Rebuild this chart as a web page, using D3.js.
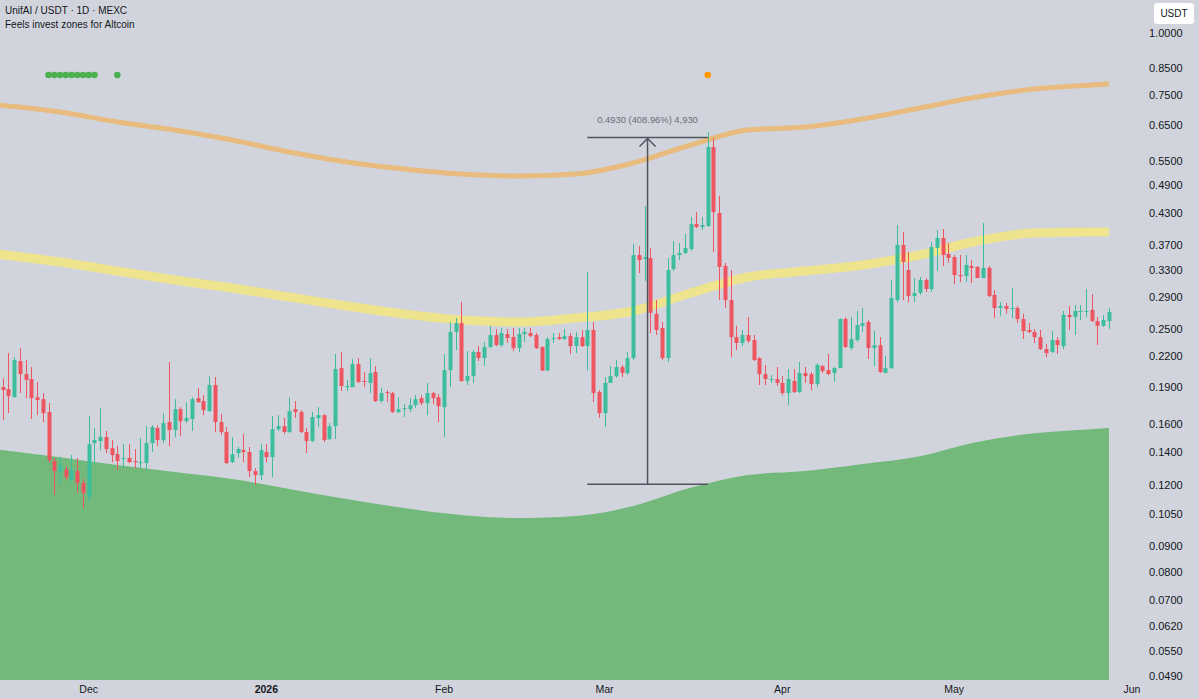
<!DOCTYPE html>
<html lang="en">
<head>
<meta charset="utf-8"/>
<title>UnifAI / USDT 1D MEXC</title>
<script src="https://d3js.org/d3.v7.min.js"></script>
<style>
  body { margin: 0; background: #d1d4dc; overflow: hidden; }
  svg text { font-family: "Liberation Sans", Arial, sans-serif; }
</style>
</head>
<body>
<div id="chart"></div>
<script>
// daily candles, the first one is 16 Nov 2025
var firstCandle = Date.UTC(2025, 10, 16);
var dayMs = 86400000;

var opens = [0.1901,0.1883,0.1813,0.2149,0.2021,0.1975,0.1813,0.1797,0.1691,0.1344,
  0.1276,0.1294,0.1229,0.1282,0.1212,0.1135,0.1462,0.1476,0.1504,0.1428,
  0.1388,0.1357,0.1363,0.1344,0.1331,0.1331,0.1462,0.1569,0.1483,0.1614,
  0.1554,0.1715,0.1621,0.1637,0.1805,0.1781,0.1699,0.1920,0.1614,0.1540,
  0.1337,0.1395,0.1415,0.1402,0.1282,0.1258,0.1402,0.1369,0.1561,0.1583,
  0.1540,0.1715,0.1691,0.1540,0.1476,0.1645,0.1667,0.1490,0.1583,0.2079,
  0.1901,0.1901,0.2119,0.1957,0.1939,0.2041,0.1781,0.1858,0.1849,0.1691,
  0.1715,0.1715,0.1747,0.1805,0.1764,0.1849,0.1813,0.1731,0.2060,0.2463,
  0.2568,0.1957,0.2002,0.2242,0.2179,0.2295,0.2428,0.2316,0.2439,0.2405,
  0.2284,0.2439,0.2451,0.2428,0.2295,0.2055,0.2383,0.2405,0.2383,0.2416,
  0.2305,0.2405,0.2305,0.2486,0.1858,0.1683,0.1939,0.2002,0.2089,0.2031,
  0.2179,0.3534,0.3470,0.3486,0.2682,0.2510,0.2179,0.3311,0.3534,0.3568,
  0.3636,0.4088,0.4031,0.4050,0.5869,0.4306,0.3358,0.2862,0.2405,0.2339,
  0.2428,0.2372,0.2179,0.2021,0.1966,0.1975,0.1939,0.1849,0.1957,0.1858,
  0.2031,0.2021,0.1930,0.2099,0.2060,0.2031,0.2079,0.2617,0.2284,0.2372,
  0.2535,0.2581,0.2284,0.2316,0.2031,0.2079,0.2862,0.3705,0.3295,0.2916,
  0.2958,0.3143,0.3013,0.3653,0.3829,0.3551,0.3502,0.3218,0.3203,0.3358,
  0.3342,0.3173,0.3327,0.2930,0.2757,0.2783,0.2744,0.2757,0.2617,0.2486,
  0.2463,0.2405,0.2273,0.2242,0.2372,0.2305,0.2668,0.2642,0.2706,0.2706,
  0.2731,0.2593,0.2535,0.2593];
var highs = [0.1983,0.2231,0.2189,0.2284,0.2159,0.2089,0.1948,0.1849,0.1764,0.1363,
  0.1369,0.1313,0.1382,0.1363,0.1235,0.1660,0.1569,0.1723,0.1547,0.1483,
  0.1442,0.1455,0.1455,0.1422,0.1497,0.1583,0.1591,0.1591,0.1683,0.2139,
  0.1797,0.1731,0.1772,0.1813,0.1893,0.1831,0.2002,0.1994,0.1675,0.1576,
  0.1504,0.1435,0.1525,0.1435,0.1300,0.1455,0.1455,0.1660,0.1667,0.1645,
  0.1813,0.1781,0.1707,0.1569,0.1691,0.1731,0.1675,0.1606,0.2221,0.2242,
  0.1966,0.2169,0.2179,0.2041,0.2179,0.2099,0.1893,0.1875,0.1858,0.1813,
  0.1755,0.1805,0.1831,0.1831,0.1939,0.1858,0.1840,0.2221,0.2581,0.2630,
  0.2835,0.2252,0.2263,0.2305,0.2350,0.2535,0.2498,0.2510,0.2498,0.2510,
  0.2510,0.2510,0.2510,0.2451,0.2305,0.2405,0.2451,0.2451,0.2498,0.2451,
  0.2463,0.2486,0.3264,0.2581,0.1875,0.1994,0.2099,0.2159,0.2109,0.2242,
  0.3722,0.3687,0.4450,0.3653,0.2862,0.2581,0.3486,0.3775,0.3740,0.3904,
  0.4225,0.4326,0.4225,0.6292,0.6122,0.4669,0.3406,0.3295,0.2535,0.2486,
  0.2642,0.2428,0.2189,0.2109,0.2012,0.2089,0.2002,0.2070,0.2070,0.2139,
  0.2089,0.2041,0.2129,0.2109,0.2221,0.2089,0.2630,0.2642,0.2642,0.2718,
  0.2757,0.2605,0.2474,0.2405,0.2200,0.3143,0.4069,0.3938,0.3585,0.3173,
  0.3188,0.3173,0.3757,0.3975,0.3994,0.3740,0.3534,0.3534,0.3534,0.3453,
  0.3358,0.4107,0.3358,0.2999,0.2835,0.2822,0.3027,0.2783,0.2682,0.2568,
  0.2498,0.2486,0.2328,0.2474,0.2405,0.2718,0.2783,0.2796,0.2796,0.3013,
  0.2944,0.2642,0.2668,0.2757];
var lows = [0.1629,0.1683,0.1811,0.1849,0.1805,0.1637,0.1667,0.1614,0.1331,0.1146,
  0.1200,0.1229,0.1217,0.1157,0.1078,0.1103,0.1319,0.1415,0.1395,0.1337,
  0.1288,0.1300,0.1331,0.1300,0.1300,0.1288,0.1402,0.1442,0.1462,0.1442,
  0.1504,0.1511,0.1606,0.1547,0.1764,0.1667,0.1691,0.1540,0.1518,0.1325,
  0.1331,0.1363,0.1337,0.1246,0.1200,0.1229,0.1337,0.1246,0.1547,0.1525,
  0.1532,0.1645,0.1532,0.1395,0.1469,0.1576,0.1469,0.1483,0.1490,0.1866,
  0.1866,0.1901,0.1939,0.1901,0.1849,0.1772,0.1764,0.1772,0.1683,0.1683,
  0.1652,0.1691,0.1723,0.1747,0.1667,0.1755,0.1614,0.1504,0.1901,0.2263,
  0.1948,0.1920,0.1939,0.2149,0.2099,0.2284,0.2305,0.2295,0.2339,0.2252,
  0.2242,0.2350,0.2405,0.2273,0.2050,0.2050,0.2339,0.2372,0.2372,0.2221,
  0.2231,0.2295,0.2060,0.1772,0.1645,0.1576,0.1939,0.1985,0.1994,0.2012,
  0.2159,0.3249,0.3128,0.2451,0.2428,0.2159,0.2139,0.3280,0.3453,0.3551,
  0.3602,0.4012,0.3975,0.4031,0.3585,0.2862,0.2757,0.2189,0.2263,0.2305,
  0.2339,0.2149,0.1920,0.1920,0.1939,0.1911,0.1831,0.1747,0.1849,0.1849,
  0.1939,0.1875,0.1901,0.2031,0.2012,0.1948,0.2079,0.2284,0.2263,0.2350,
  0.2463,0.2169,0.2099,0.2031,0.2031,0.2070,0.2835,0.2862,0.2835,0.2835,
  0.2930,0.2972,0.2972,0.3280,0.3358,0.3406,0.3084,0.3114,0.3114,0.3099,
  0.3173,0.3173,0.2902,0.2630,0.2654,0.2682,0.2630,0.2568,0.2383,0.2451,
  0.2339,0.2263,0.2189,0.2231,0.2221,0.2273,0.2486,0.2428,0.2605,0.2642,
  0.2581,0.2316,0.2522,0.2498];
var closes = [0.1875,0.1822,0.2159,0.2021,0.1966,0.1805,0.1789,0.1683,0.1350,0.1282,
  0.1319,0.1246,0.1288,0.1212,0.1157,0.1455,0.1483,0.1504,0.1422,0.1382,
  0.1344,0.1363,0.1337,0.1337,0.1337,0.1462,0.1576,0.1483,0.1606,0.1554,
  0.1715,0.1621,0.1645,0.1797,0.1772,0.1707,0.1920,0.1614,0.1540,0.1331,
  0.1388,0.1422,0.1402,0.1282,0.1258,0.1415,0.1369,0.1561,0.1583,0.1540,
  0.1699,0.1691,0.1540,0.1476,0.1652,0.1667,0.1483,0.1583,0.2070,0.1911,
  0.1911,0.2119,0.1948,0.1948,0.2031,0.1781,0.1849,0.1849,0.1691,0.1715,
  0.1723,0.1747,0.1797,0.1764,0.1849,0.1805,0.1739,0.2060,0.2463,0.2568,
  0.1957,0.2002,0.2242,0.2179,0.2295,0.2428,0.2316,0.2451,0.2394,0.2284,
  0.2439,0.2463,0.2416,0.2284,0.2055,0.2383,0.2394,0.2383,0.2416,0.2305,
  0.2405,0.2305,0.2486,0.1849,0.1683,0.1939,0.2002,0.2089,0.2031,0.2179,
  0.3534,0.3453,0.3502,0.2694,0.2486,0.2179,0.3295,0.3534,0.3568,0.3653,
  0.4088,0.4031,0.4069,0.5869,0.4326,0.3342,0.2862,0.2405,0.2339,0.2428,
  0.2361,0.2159,0.2021,0.1975,0.1975,0.1939,0.1849,0.1975,0.1858,0.2031,
  0.2002,0.1930,0.2109,0.2050,0.2021,0.2079,0.2617,0.2295,0.2383,0.2545,
  0.2568,0.2284,0.2316,0.2041,0.2079,0.2889,0.3705,0.3421,0.2916,0.2958,
  0.3143,0.3013,0.3670,0.3829,0.3534,0.3486,0.3218,0.3203,0.3374,0.3327,
  0.3173,0.3327,0.2916,0.2757,0.2783,0.2744,0.2757,0.2617,0.2474,0.2463,
  0.2405,0.2273,0.2231,0.2372,0.2316,0.2668,0.2642,0.2718,0.2718,0.2718,
  0.2593,0.2535,0.2605,0.2706];

// indicator bands, sampled by candle index
var bandIdx    = [-1, 10, 20, 30, 40, 50, 60, 70, 80, 90, 100, 110, 120, 130, 140, 150, 160, 170, 180, 190, 193];
var upperBand  = [0.7149,0.6918,0.6600,0.6357,0.6065,0.5733,0.5470,0.5293,0.5170,0.5122,0.5170,0.5444,0.5925,0.6357,0.6447,0.6694,0.7048,0.7422,0.7706,0.7852,0.7889];
var middleBand = [0.3552,0.3420,0.3279,0.3143,0.3028,0.2902,0.2782,0.2680,0.2605,0.2581,0.2630,0.2718,0.2957,0.3188,0.3279,0.3373,0.3535,0.3775,0.3920,0.3938,0.3938];
var lowerBand  = [0.1420,0.1368,0.1319,0.1276,0.1235,0.1179,0.1124,0.1078,0.1043,0.1028,0.1038,0.1088,0.1185,0.1258,0.1282,0.1325,0.1375,0.1469,0.1532,0.1561,0.1569];

// signal dots (candle index)
var greenSignals = [8, 9, 10, 11, 12, 13, 14, 15, 16, 20];
var orangeSignals = [123];

// price range measurement
var measureFrom = 102, measureTo = 123;
var measureLow = 0.1205, measureHigh = 0.6135;
var measureText = "0.4930 (408.96%) 4,930";

var priceTicks = [1.0, 0.85, 0.75, 0.65, 0.55, 0.49, 0.43, 0.37, 0.33, 0.29, 0.25, 0.22,
  0.19, 0.16, 0.14, 0.12, 0.105, 0.09, 0.08, 0.07, 0.062, 0.055, 0.049];
var monthTicks = [[2025, 11, "Dec"], [2026, 0, "2026"], [2026, 1, "Feb"], [2026, 2, "Mar"],
  [2026, 3, "Apr"], [2026, 4, "May"], [2026, 5, "Jun"]];

var w = 1199, h = 699;
var plotW = 1140, plotH = 680;

function dayDate(i) { return new Date(firstCandle + i * dayMs); }

var candles = opens.map(function(o, i) {
  return {date: dayDate(i), o: o, h: highs[i], l: lows[i], c: closes[i]};
});

var x = d3.scaleUtc()
  .domain([new Date(Date.UTC(2025, 10, 15, 12, 40)), new Date(Date.UTC(2026, 5, 2, 10))])
  .range([0, plotW]);
var y = d3.scaleLog().domain([0.04808, 1.1703]).range([plotH, 0]);

var svg = d3.select("#chart").append("svg")
  .attr("width", w).attr("height", h);

svg.append("rect").attr("width", w).attr("height", h).attr("fill", "#d1d4dc");

svg.append("clipPath").attr("id", "plot")
  .append("rect").attr("width", plotW).attr("height", plotH);

var g = svg.append("g").attr("clip-path", "url(#plot)");

var bandData = bandIdx.map(function(d, i) {
  return {date: dayDate(d), up: upperBand[i], mid: middleBand[i], low: lowerBand[i]};
});

// green zone
g.append("path")
  .datum(bandData)
  .attr("fill", "#72b97b")
  .attr("d", d3.area().curve(d3.curveMonotoneX)
    .x(function(d) { return x(d.date); })
    .y0(plotH)
    .y1(function(d) { return y(d.low); }));

g.append("path")
  .datum(bandData)
  .attr("fill", "none")
  .attr("stroke", "#eee48e")
  .attr("stroke-width", 9)
  .attr("d", d3.line().curve(d3.curveMonotoneX)
    .x(function(d) { return x(d.date); })
    .y(function(d) { return y(d.mid); }));

g.append("path")
  .datum(bandData)
  .attr("fill", "none")
  .attr("stroke", "#e8bb7e")
  .attr("stroke-width", 5)
  .attr("d", d3.line().curve(d3.curveMonotoneX)
    .x(function(d) { return x(d.date); })
    .y(function(d) { return y(d.up); }));

// candles
var up = "#3dbd9d", down = "#ef5561";
var cg = g.selectAll("g.candle")
  .data(candles)
  .enter()
  .append("g")
  .attr("class", "candle");

cg.append("line")
  .attr("x1", function(d) { return Math.round(x(d.date)) + 0.5; })
  .attr("x2", function(d) { return Math.round(x(d.date)) + 0.5; })
  .attr("y1", function(d) { return y(d.h); })
  .attr("y2", function(d) { return y(d.l); })
  .attr("stroke", function(d) { return d.c >= d.o ? up : down; })
  .attr("stroke-width", 1);

cg.append("rect")
  .attr("x", function(d) { return Math.round(x(d.date)) - 1.5; })
  .attr("width", 4)
  .attr("y", function(d) { return y(Math.max(d.o, d.c)); })
  .attr("height", function(d) { return Math.max(1, Math.abs(y(d.o) - y(d.c))); })
  .attr("fill", function(d) { return d.c >= d.o ? up : down; });

// measurement tool
var mx1 = x(dayDate(measureFrom)), mx2 = x(dayDate(measureTo));
var mxm = (mx1 + mx2) / 2;
var myHi = y(measureHigh), myLo = y(measureLow);
var mcol = "#50535e";
g.append("line").attr("x1", mx1).attr("x2", mx2).attr("y1", myHi).attr("y2", myHi)
  .attr("stroke", mcol).attr("stroke-width", 1.5);
g.append("line").attr("x1", mx1).attr("x2", mx2).attr("y1", myLo).attr("y2", myLo)
  .attr("stroke", mcol).attr("stroke-width", 1.5);
g.append("line").attr("x1", mxm).attr("x2", mxm).attr("y1", myHi).attr("y2", myLo)
  .attr("stroke", mcol).attr("stroke-width", 1.5);
g.append("path")
  .attr("d", "M" + (mxm - 8) + "," + (myHi + 9) + "L" + mxm + "," + (myHi + 1) + "L" + (mxm + 8) + "," + (myHi + 9))
  .attr("fill", "none").attr("stroke", mcol).attr("stroke-width", 1.5);
g.append("text")
  .attr("x", mxm).attr("y", myHi - 15)
  .attr("text-anchor", "middle")
  .attr("font-size", "9.4px")
  .attr("fill", "#6a6d78")
  .text(measureText);

// signal dots
g.selectAll("circle.gs").data(greenSignals).enter().append("circle")
  .attr("class", "gs")
  .attr("cx", function(d) { return x(dayDate(d)); })
  .attr("cy", 75).attr("r", 3.3).attr("fill", "#4caf50");
g.selectAll("circle.os").data(orangeSignals).enter().append("circle")
  .attr("class", "os")
  .attr("cx", function(d) { return x(dayDate(d)); })
  .attr("cy", 75).attr("r", 3.3).attr("fill", "#ff9800");

// header
svg.append("text").attr("x", 5).attr("y", 14).attr("font-size", "10px").attr("fill", "#131722")
  .text("UnifAI / USDT \u00b7 1D \u00b7 MEXC");
svg.append("text").attr("x", 5).attr("y", 27.5).attr("font-size", "10px").attr("fill", "#131722")
  .text("Feels invest zones for Altcoin");

// price axis
svg.selectAll("text.pt").data(priceTicks).enter().append("text")
  .attr("class", "pt")
  .attr("x", 1149)
  .attr("y", function(d) { return y(d) + 4; })
  .attr("font-size", "11px")
  .attr("fill", "#131722")
  .text(function(d) { return d3.format(".4f")(d); });

svg.append("rect").attr("x", 1154).attr("y", 3).attr("width", 40).attr("height", 21)
  .attr("rx", 3).attr("fill", "#ffffff");
svg.append("text").attr("x", 1174).attr("y", 17).attr("text-anchor", "middle")
  .attr("font-size", "10px").attr("fill", "#131722").text("USDT");

// time axis
svg.selectAll("text.mt").data(monthTicks).enter().append("text")
  .attr("class", "mt")
  .attr("x", function(d) { return x(new Date(Date.UTC(d[0], d[1], 1))); })
  .attr("y", 693)
  .attr("text-anchor", "middle")
  .attr("font-size", "10.5px")
  .attr("font-weight", function(d) { return d[1] === 0 ? "bold" : "normal"; })
  .attr("fill", "#131722")
  .text(function(d) { return d[2]; });
</script>
</body>
</html>
